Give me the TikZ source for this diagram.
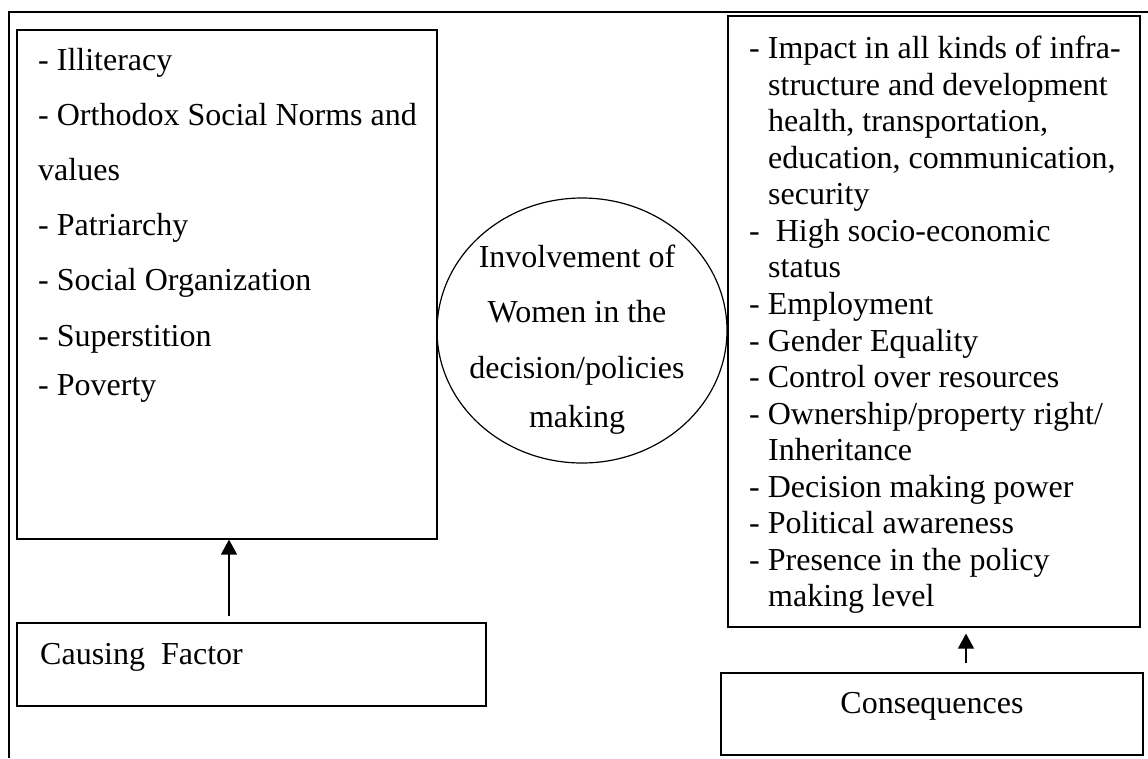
\documentclass[tikz,border=0pt]{standalone}
\usepackage{fontspec}
\setmainfont{Liberation Serif}
\usetikzlibrary{arrows.meta,shapes.geometric}
\begin{document}
\begin{tikzpicture}[x=1pt,y=-1pt,
  box/.style={draw,line width=1.2pt,inner sep=0pt},
  txt/.style={inner sep=0pt,font=\fontsize{32}{36}\selectfont},
  arr/.style={line width=1.6pt,-{Triangle[width=16pt,length=15pt]}}]
\useasboundingbox (0,0) rectangle (1148,758);
% outer frame
\coordinate (ftr) at (1148,12);
\coordinate (ftl) at (9,12);
\coordinate (fbl) at (9,758);
\draw[line width=1.2pt] (ftr) -- (ftl) -- (fbl);
% boxes
\node[box,minimum width=420pt,minimum height=509pt] (lbox) at (227,284.5) {};
\node[box,minimum width=469pt,minimum height=83pt] (cause) at (251.5,664.5) {};
\node[box,minimum width=412pt,minimum height=611pt] (rbox) at (934,321.5) {};
\node[box,minimum width=422pt,minimum height=82pt] (cons) at (932,714) {};
\node[draw,line width=1.2pt,ellipse,minimum width=290pt,minimum height=265pt,inner sep=0pt] (circ) at (582,330.5) {};
% left list
\foreach \t/\y [count=\i] in {{- Illiteracy}/70,{- Orthodox Social Norms and}/125,{values}/180,{- Patriarchy}/235,{- Social Organization}/290,{- Superstition}/346,{- Poverty}/395}
  \node[txt,anchor=base west] (l\i) at (38,\y) {\t};
% right list
\foreach \t/\x/\y [count=\i] in {{- Impact in all kinds of infra-}/749/58,{structure and development}/768/95,{health, transportation,}/768/131,{education, communication,}/768/168,{security}/768/204,{-\ \ High socio-economic}/749/241,{status}/768/277,{- Employment}/749/314,{- Gender Equality}/749/351,{- Control over resources}/749/387,{- Ownership/property right/}/749/424,{Inheritance}/768/460,{- Decision making power}/749/497,{- Political awareness}/749/533,{- Presence in the policy}/749/570,{making level}/768/606}
  \node[txt,anchor=base west] (r\i) at (\x,\y) {\t};
% circle text
\foreach \t/\y [count=\i] in {{Involvement of}/267,{Women in the}/322,{decision/policies}/378,{making}/427}
  \node[txt,anchor=base] (c\i) at (577,\y) {\t};
% bottom labels
\node[txt,anchor=base west] (causetxt) at (40,664) {Causing\ \ Factor};
\node[txt,anchor=base] (constxt) at (932,713) {Consequences};
% arrows
\draw[arr] ([yshift=6pt]cause.north -| 229,0) -- (lbox.south -| 229,0);
\draw[arr] ([yshift=9pt]cons.north -| 966,0) -- ([yshift=-6pt]rbox.south -| 966,0);
\end{tikzpicture}
\end{document}
